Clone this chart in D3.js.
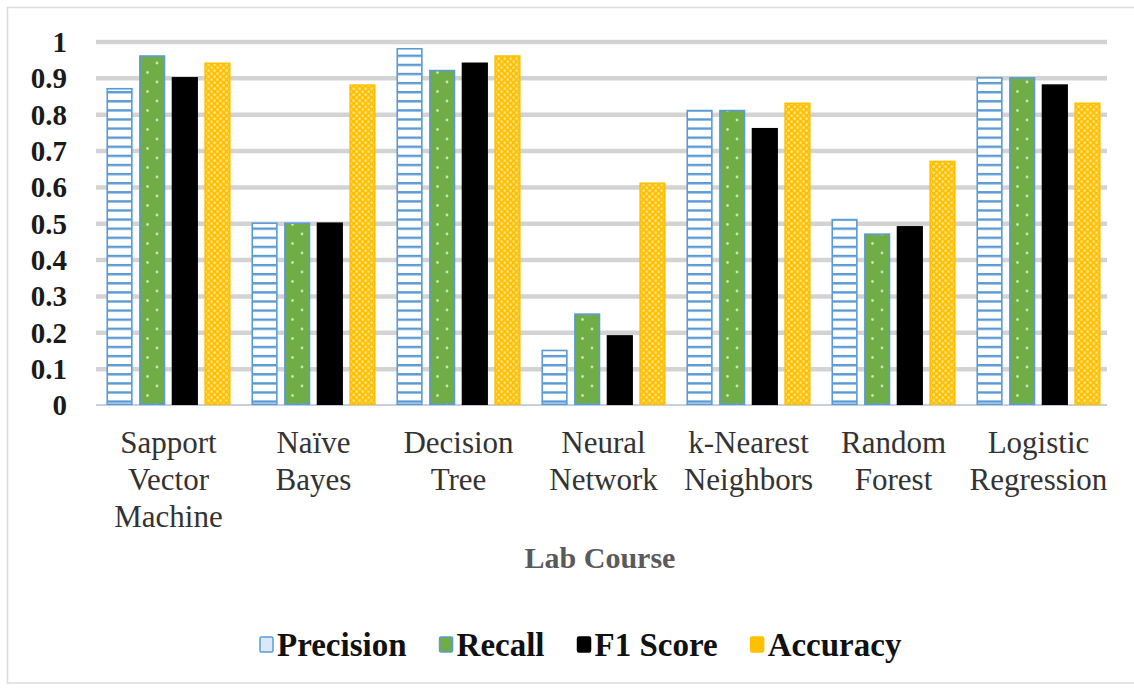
<!DOCTYPE html>
<html>
<head>
<meta charset="utf-8">
<script src="https://cdn.jsdelivr.net/npm/d3@7"></script>
<style>
  html, body { margin: 0; padding: 0; background: #fff; }
  svg { display: block; }
</style>
</head>
<body>
<svg id="chart" width="1134" height="688"></svg>
<script>
// Classifier results on the lab course data
const categories = [
  ["Sapport", "Vector", "Machine"],
  ["Naïve", "Bayes"],
  ["Decision", "Tree"],
  ["Neural", "Network"],
  ["k-Nearest", "Neighbors"],
  ["Random", "Forest"],
  ["Logistic", "Regression"]
];
const seriesNames = ["Precision", "Recall", "F1 Score", "Accuracy"];
const precision = [0.87, 0.50, 0.98, 0.15, 0.81, 0.51, 0.90];
const recall    = [0.96, 0.50, 0.92, 0.25, 0.81, 0.47, 0.90];
const f1Score   = [0.90, 0.50, 0.94, 0.19, 0.76, 0.49, 0.88];
const accuracy  = [0.94, 0.88, 0.96, 0.61, 0.83, 0.67, 0.83];
const yTicks = [0, 0.1, 0.2, 0.3, 0.4, 0.5, 0.6, 0.7, 0.8, 0.9, 1];
const xTitle = "Lab Course";

const seriesValues = [precision, recall, f1Score, accuracy];
const catKeys = categories.map((c, i) => i);
const SERIF = "Liberation Serif";

const svg = d3.select("#chart");

// outer frame
svg.append("rect")
  .attr("x", 7.5).attr("y", 7.5)
  .attr("width", 1140).attr("height", 675.5)
  .attr("fill", "none").attr("stroke", "#dcdcdc").attr("stroke-width", 1.5);

// fill patterns for each series
const defs = svg.append("defs");

const pStripe = defs.append("pattern")
  .attr("id", "pat-precision").attr("patternUnits", "userSpaceOnUse")
  .attr("width", 8).attr("height", 9.1);
pStripe.append("rect").attr("width", 8).attr("height", 9.1).attr("fill", "#fff");
pStripe.append("rect").attr("y", 0).attr("width", 8).attr("height", 2.4).attr("fill", "#5b9bd5");

const rDots = defs.append("pattern")
  .attr("id", "pat-recall").attr("patternUnits", "userSpaceOnUse")
  .attr("width", 19).attr("height", 38);
rDots.append("rect").attr("width", 19).attr("height", 38).attr("fill", "#70ad47");
rDots.append("circle").attr("cx", 4).attr("cy", 6).attr("r", 1.4).attr("fill", "#c9e6b2");
rDots.append("circle").attr("cx", 4).attr("cy", 25).attr("r", 1.4).attr("fill", "#c9e6b2");
rDots.append("circle").attr("cx", 13.5).attr("cy", 15.5).attr("r", 1.4).attr("fill", "#c9e6b2");
rDots.append("circle").attr("cx", 13.5).attr("cy", 34.5).attr("r", 1.4).attr("fill", "#c9e6b2");

const aCheck = defs.append("pattern")
  .attr("id", "pat-accuracy").attr("patternUnits", "userSpaceOnUse")
  .attr("width", 6).attr("height", 6);
aCheck.append("rect").attr("width", 6).attr("height", 6).attr("fill", "#ffc000");
aCheck.append("rect").attr("x", 0.5).attr("y", 0.5).attr("width", 2.2).attr("height", 2.2).attr("fill", "#ffe7a0");
aCheck.append("rect").attr("x", 3.5).attr("y", 3.5).attr("width", 2.2).attr("height", 2.2).attr("fill", "#ffe7a0");

const fills = ["url(#pat-precision)", "url(#pat-recall)", "#000", "url(#pat-accuracy)"];
const strokes = ["#5b9bd5", "#5b9bd5", "#000", "#ffc000"];
const legendFills = ["#dbe8f6", "#70ad47", "#000", "#ffc000"];
const legendStrokes = ["#5b9bd5", "#5b9bd5", "#000", "#ffc000"];

// scales
const plotLeft = 96, plotRight = 1107, plotTop = 41.5, plotBottom = 405;
const y = d3.scaleLinear().domain([0, 1]).range([plotBottom, plotTop]);
const x0 = d3.scaleBand().domain(catKeys).range([plotLeft, 1111]).padding(0);
const x1 = d3.scaleBand().domain(d3.range(seriesNames.length))
  .range([10.5, x0.bandwidth() - 10.5]).paddingInner(0.2).paddingOuter(0);

// horizontal gridlines with tick labels
const yAxis = d3.axisLeft(y).tickValues(yTicks)
  .tickSize(-(plotRight - plotLeft)).tickPadding(29)
  .tickFormat(d => d === 0 ? "0" : d === 1 ? "1" : d3.format(".1f")(d));

const gy = svg.append("g").attr("transform", `translate(${plotLeft},0)`).call(yAxis);
gy.attr("font-family", SERIF);
gy.select(".domain").remove();
gy.selectAll(".tick line")
  .attr("stroke", "#d3d3d3").attr("stroke-width", d => d === 0 ? 0 : 4.5);
gy.selectAll(".tick text")
  .attr("fill", "#1a1a1a").attr("font-size", 29).attr("font-weight", "bold")
  .attr("dy", "0.34em");

// baseline
svg.append("line")
  .attr("x1", plotLeft).attr("x2", plotRight)
  .attr("y1", y(0)).attr("y2", y(0))
  .attr("stroke", "#c5d0de").attr("stroke-width", 2);

// bars
const groups = svg.append("g").selectAll("g")
  .data(catKeys).join("g")
  .attr("transform", d => `translate(${x0(d)},0)`);

groups.selectAll("rect")
  .data(ci => seriesValues.map((vals, si) => ({ si, v: vals[ci] })))
  .join("rect")
  .attr("x", d => x1(d.si) + 0.75)
  .attr("width", x1.bandwidth() - 1.5)
  .attr("y", d => y(d.v))
  .attr("height", d => y(0) - y(d.v) - 0.75)
  .attr("fill", d => fills[d.si])
  .attr("stroke", d => strokes[d.si])
  .attr("stroke-width", 1.6);

// category labels, one text per line
const labelG = svg.append("g");
catKeys.forEach(ci => {
  categories[ci].forEach((line, li) => {
    labelG.append("text")
      .attr("x", x0(ci) + x0.bandwidth() / 2)
      .attr("y", plotBottom + 48 + li * 37)
      .attr("text-anchor", "middle")
      .attr("font-family", SERIF)
      .attr("font-size", 31)
      .attr("fill", "#333")
      .text(line);
  });
});

// axis title
svg.append("text")
  .attr("x", 600).attr("y", 568)
  .attr("text-anchor", "middle")
  .attr("font-family", SERIF)
  .attr("font-size", 30).attr("font-weight", "bold")
  .attr("fill", "#5a5a5a")
  .text(xTitle);

// legend
const legend = svg.append("g");
let lx = 259;
const ly = 656;
seriesNames.forEach((name, i) => {
  legend.append("rect")
    .attr("x", lx + 1).attr("y", ly - 19)
    .attr("width", 13).attr("height", 15)
    .attr("rx", 1.5)
    .attr("fill", legendFills[i])
    .attr("stroke", legendStrokes[i]).attr("stroke-width", 1.5);
  const t = legend.append("text")
    .attr("x", lx + 18).attr("y", ly)
    .attr("font-family", SERIF)
    .attr("font-size", 33).attr("font-weight", "bold")
    .attr("fill", "#111")
    .text(name);
  lx = lx + 18 + t.node().getComputedTextLength() + 32;
});
</script>
</body>
</html>
